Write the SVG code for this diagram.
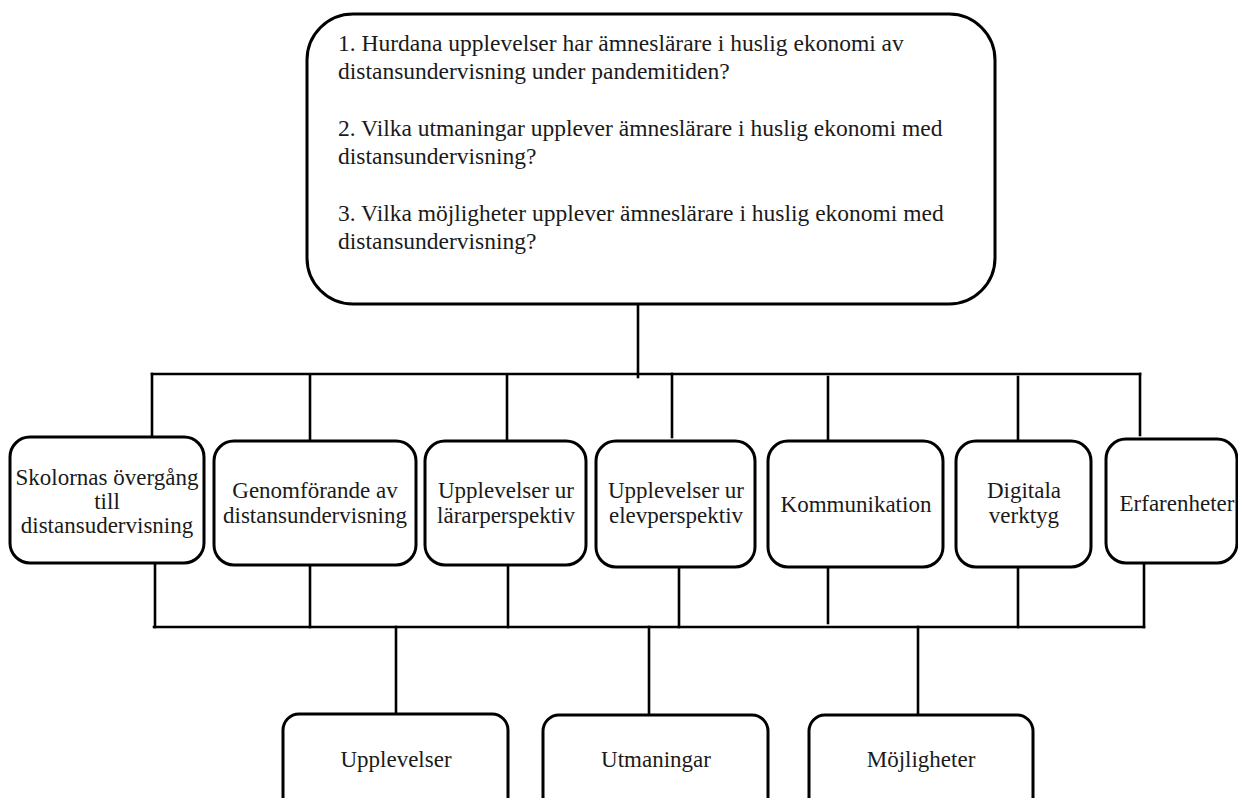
<svg xmlns="http://www.w3.org/2000/svg" width="1238" height="798" viewBox="0 0 1238 798">
<style>
.box{fill:#fff;stroke:#000;stroke-width:3}
.ln{stroke:#000;stroke-width:2.6;fill:none;stroke-linecap:square}
text{font-family:"Liberation Serif","Times New Roman",serif;font-size:23px;fill:#1a1a1a}
.q{font-size:23.5px}
.c{text-anchor:middle}
</style>
<rect width="1238" height="798" fill="#fff"/>
<g id="connectors">
<line class="ln" x1="638" y1="304" x2="638" y2="377"/>
<line class="ln" x1="152" y1="374" x2="1140" y2="374"/>
<line class="ln" x1="152" y1="374" x2="152" y2="437"/>
<line class="ln" x1="310" y1="376" x2="310" y2="441"/>
<line class="ln" x1="507" y1="376" x2="507" y2="441"/>
<line class="ln" x1="672" y1="374" x2="672" y2="437"/>
<line class="ln" x1="828" y1="377" x2="828" y2="441"/>
<line class="ln" x1="1018" y1="377" x2="1018" y2="441"/>
<line class="ln" x1="1140" y1="374" x2="1140" y2="435"/>
<line class="ln" x1="155" y1="563" x2="155" y2="627"/>
<line class="ln" x1="310" y1="565" x2="310" y2="627"/>
<line class="ln" x1="508" y1="565" x2="508" y2="627"/>
<line class="ln" x1="679" y1="567" x2="679" y2="627"/>
<line class="ln" x1="828" y1="562" x2="828" y2="623"/>
<line class="ln" x1="1018" y1="567" x2="1018" y2="627"/>
<line class="ln" x1="1144" y1="563" x2="1144" y2="627"/>
<line class="ln" x1="154" y1="627" x2="1144" y2="627"/>
<line class="ln" x1="396" y1="627" x2="396" y2="714"/>
<line class="ln" x1="649" y1="627" x2="649" y2="715"/>
<line class="ln" x1="918" y1="627" x2="918" y2="715"/>
</g>
<g id="questions">
<rect class="box" x="307" y="14" width="688" height="290" rx="46"/>
<text class="q" x="338" y="51">1. Hurdana upplevelser har ämneslärare i huslig ekonomi av</text>
<text class="q" x="338" y="79">distansundervisning under pandemitiden?</text>
<text class="q" x="338" y="136">2. Vilka utmaningar upplever ämneslärare i huslig ekonomi med</text>
<text class="q" x="338" y="164">distansundervisning?</text>
<text class="q" x="338" y="221">3. Vilka möjligheter upplever ämneslärare i huslig ekonomi med</text>
<text class="q" x="338" y="249">distansundervisning?</text>
</g>
<g id="skolornas">
<rect class="box" x="10" y="437" width="194" height="126" rx="20"/>
<text class="c" x="107" y="485">Skolornas övergång</text>
<text class="c" x="107" y="509">till</text>
<text class="c" x="107" y="533">distansudervisning</text>
</g>
<g id="genomforande">
<rect class="box" x="214" y="441" width="202" height="124" rx="20"/>
<text class="c" x="315" y="498">Genomförande av</text>
<text class="c" x="315" y="523">distansundervisning</text>
</g>
<g id="lararperspektiv">
<rect class="box" x="425" y="441" width="161" height="124" rx="20"/>
<text class="c" x="506" y="498">Upplevelser ur</text>
<text class="c" x="506" y="523">lärarperspektiv</text>
</g>
<g id="elevperspektiv">
<rect class="box" x="596" y="441" width="159" height="126" rx="20"/>
<text class="c" x="676" y="498">Upplevelser ur</text>
<text class="c" x="676" y="523">elevperspektiv</text>
</g>
<g id="kommunikation">
<rect class="box" x="768" y="441" width="175" height="126" rx="20"/>
<text class="c" x="856" y="512">Kommunikation</text>
</g>
<g id="digitala">
<rect class="box" x="956" y="441" width="135" height="126" rx="20"/>
<text class="c" x="1024" y="498">Digitala</text>
<text class="c" x="1024" y="523">verktyg</text>
</g>
<g id="erfarenheter">
<rect class="box" x="1106" y="439" width="131" height="124" rx="20"/>
<text class="c" x="1177" y="511">Erfarenheter</text>
</g>
<g id="upplevelser">
<rect class="box" x="283" y="714" width="225" height="110" rx="16"/>
<text class="c" x="396" y="767">Upplevelser</text>
</g>
<g id="utmaningar">
<rect class="box" x="543" y="715" width="225" height="110" rx="16"/>
<text class="c" x="656" y="767">Utmaningar</text>
</g>
<g id="mojligheter">
<rect class="box" x="809" y="715" width="224" height="110" rx="16"/>
<text class="c" x="921" y="767">Möjligheter</text>
</g>
</svg>
